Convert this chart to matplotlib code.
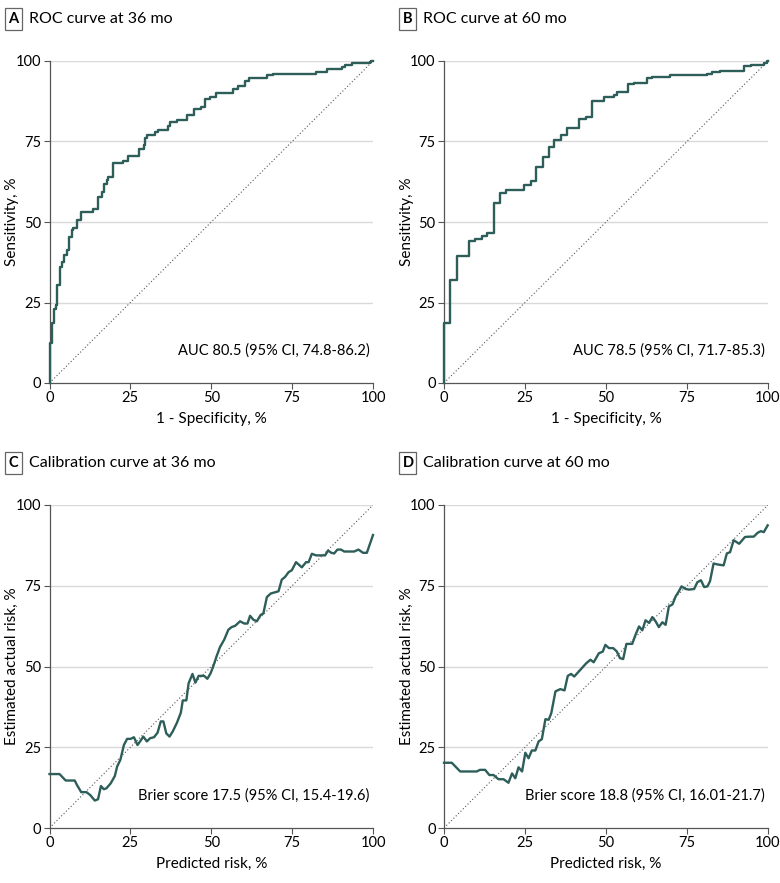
import matplotlib
matplotlib.use("Agg")
import matplotlib.pyplot as plt
from matplotlib.patches import Rectangle

plt.rcParams['font.family'] = ['Lato', 'DejaVu Sans']

# ROC 36 mo (step corners: false-positive rate, sensitivity)
roc36_fpr = [0, 0, 0.8, 1.4, 2.0, 2.4, 3.2, 3.8, 4.6, 5.3, 6.0, 6.9, 7.4, 8.4, 9.6, 13.5, 15.1,
             16.1, 16.8, 17.7, 18.2, 19.7, 22.8, 24.4, 27.8, 29.3, 29.5, 30.2, 32.6, 33.6, 36.7,
             37.2, 39.3, 42.4, 44.7, 46.7, 48.1, 49.6, 51.5, 56.6, 58.4, 60.4, 61.8, 67.1, 69.0,
             82.4, 85.7, 90.3, 91.3, 93.4, 99.1, 99.5, 100]
roc36_tpr = [0, 12.3, 18.5, 23.1, 24.2, 30.3, 36.0, 37.6, 39.6, 41.2, 45.3, 47.4, 48.2, 50.5, 53.0,
             54.0, 57.7, 59.2, 61.8, 63.0, 64.0, 68.2, 69.0, 70.6, 72.7, 73.9, 76.1, 77.0, 78.0,
             78.5, 79.9, 81.1, 81.7, 83.1, 85.0, 85.6, 88.3, 88.8, 90.2, 91.4, 92.2, 93.8, 94.8,
             95.6, 96.1, 96.6, 97.4, 98.2, 98.9, 99.4, 99.7, 100, 100]

# ROC 60 mo
roc60_fpr = [0, 0, 2.0, 4.1, 7.8, 9.7, 11.6, 13.3, 15.4, 17.2, 19.1, 24.7, 26.7, 28.5, 30.6, 32.5,
             34.1, 36.0, 38.0, 41.8, 43.7, 45.7, 49.3, 52.5, 53.5, 56.7, 58.6, 62.5, 64.3, 69.9,
             81.2, 82.8, 85.1, 92.7, 94.6, 98.7, 99.8, 100]
roc60_tpr = [0, 18.5, 32.1, 39.3, 44.1, 44.8, 45.5, 46.5, 55.8, 58.9, 60.0, 61.5, 62.8, 67.0, 70.1,
             73.2, 75.5, 77.0, 79.2, 82.1, 82.7, 87.6, 88.8, 89.5, 90.5, 92.8, 93.3, 94.6, 95.1,
             95.5, 96.1, 96.6, 97.0, 98.3, 98.9, 99.4, 100, 100]

# Calibration 36 mo
cal36_pred = [0, 3.1, 5.0, 7.8, 8.5, 9.8, 11.4, 12.6, 14.0, 15.0, 15.9, 16.8, 17.6, 18.9, 20.2,
              20.9, 21.9, 23.0, 24.0, 25.1, 26.1, 27.2, 28.0, 29.0, 30.1, 31.1, 32.3, 33.4, 34.4,
              35.2, 36.1, 37.1, 38.1, 39.4, 40.6, 41.2, 42.3, 43.0, 44.2, 45.1, 46.1, 47.8, 48.8,
              49.8, 50.6, 51.7, 52.7, 54.0, 55.3, 56.3, 57.4, 58.9, 60.2, 61.2, 62.0, 63.0, 64.1,
              65.3, 66.1, 67.2, 68.4, 69.8, 70.8, 71.8, 72.8, 73.9, 74.9, 76.2, 78.0, 79.3, 80.1,
              81.1, 82.4, 85.2, 86.1, 87.1, 88.0, 89.0, 90.1, 91.1, 94.2, 95.5, 96.9, 98.1, 100]
cal36_obs = [16.7, 16.7, 14.7, 14.7, 13.3, 11.1, 11.1, 10.2, 8.5, 8.9, 13.0, 12.0, 12.3, 13.8, 16.1,
             19.0, 21.1, 25.7, 27.6, 27.6, 28.1, 25.7, 26.8, 28.3, 26.8, 27.8, 28.1, 29.5, 33.0,
             33.0, 29.3, 28.3, 29.9, 32.6, 35.7, 39.5, 39.5, 44.8, 47.7, 45.0, 47.1, 47.1, 46.2,
             47.9, 50.0, 53.3, 56.0, 58.3, 61.4, 62.2, 62.6, 64.0, 63.3, 63.3, 65.7, 64.5, 64.0,
             66.0, 66.4, 71.5, 72.6, 73.0, 73.3, 76.9, 77.7, 79.2, 79.8, 82.3, 80.7, 82.3, 82.3,
             84.9, 84.4, 84.4, 85.9, 85.2, 85.0, 86.2, 86.2, 85.6, 85.6, 86.2, 85.2, 85.2, 90.7]

# Calibration 60 mo
cal60_pred = [0, 2.4, 5.0, 10.1, 11.1, 12.7, 14.0, 15.3, 16.8, 18.4, 19.9, 21.0, 22.0, 23.0, 24.1,
              25.1, 26.1, 27.1, 28.2, 29.2, 30.2, 31.3, 32.3, 33.1, 34.4, 35.9, 37.2, 38.2, 39.2,
              40.2, 42.1, 43.9, 45.2, 46.2, 47.8, 49.0, 49.8, 50.9, 52.2, 53.3, 54.3, 55.3, 56.3,
              58.1, 59.1, 60.2, 61.2, 62.2, 63.3, 64.3, 65.3, 66.3, 67.4, 68.4, 69.4, 70.5, 71.5,
              72.5, 73.3, 74.6, 75.6, 77.2, 78.2, 79.3, 80.3, 81.3, 82.1, 83.2, 84.4, 86.3, 87.3,
              88.3, 89.4, 91.1, 92.9, 94.2, 95.6, 96.8, 97.8, 98.7, 99.9]
cal60_obs = [20.2, 20.2, 17.5, 17.5, 18.0, 18.0, 16.4, 16.4, 15.1, 15.1, 14.0, 16.9, 15.4, 18.8,
             17.5, 23.3, 21.6, 24.0, 24.0, 26.8, 27.5, 33.7, 33.5, 35.5, 42.3, 43.0, 42.6, 47.1,
             47.7, 46.9, 49.0, 51.0, 52.1, 51.3, 54.1, 54.6, 56.7, 55.7, 55.7, 54.7, 52.6, 52.3,
             57.0, 57.0, 59.8, 62.4, 61.2, 64.3, 63.5, 65.3, 64.0, 62.2, 63.7, 62.9, 68.6, 69.2,
             71.7, 73.3, 74.8, 74.0, 73.8, 74.0, 76.1, 76.7, 74.6, 74.8, 76.4, 81.9, 81.6, 81.3,
             85.0, 85.4, 89.1, 88.0, 90.1, 90.2, 90.2, 91.4, 91.9, 91.6, 93.7]

ticks = [0, 25, 50, 75, 100]
tick_labels = ["0", "25", "50", "75", "100"]

panels = [
    ("A", "ROC curve at 36 mo", "1 - Specificity, %", "Sensitivity, %", "AUC 80.5 (95% CI, 74.8-86.2)"),
    ("B", "ROC curve at 60 mo", "1 - Specificity, %", "Sensitivity, %", "AUC 78.5 (95% CI, 71.7-85.3)"),
    ("C", "Calibration curve at 36 mo", "Predicted risk, %", "Estimated actual risk, %", "Brier score 17.5 (95% CI, 15.4-19.6)"),
    ("D", "Calibration curve at 60 mo", "Predicted risk, %", "Estimated actual risk, %", "Brier score 18.8 (95% CI, 16.01-21.7)"),
]

LINE = "#2d5e5a"
W, H = 780, 883
fig = plt.figure(figsize=(7.8, 8.83), dpi=100)

rects = [
    (49.5, 61, 373, 383),
    (444, 61, 768, 383),
    (49.5, 505, 373, 828),
    (444, 505, 768, 828),
]
axes = []
for (l, t, r, b) in rects:
    ax = fig.add_axes([l / W, 1 - b / H, (r - l) / W, (b - t) / H])
    axes.append(ax)

data = [(roc36_fpr, roc36_tpr, True), (roc60_fpr, roc60_tpr, True),
        (cal36_pred, cal36_obs, False), (cal60_pred, cal60_obs, False)]

for ax, (lab, title, xl, yl, note), (xs, ys, is_step), (l, t, r, b) in zip(axes, panels, data, rects):
    ax.set_xlim(0, 100)
    ax.set_ylim(0, 100)
    for g in [25, 50, 75, 100]:
        ax.axhline(g, color="#d9d9d9", lw=1.0, zorder=0)
    ax.plot([0, 100], [0, 100], ls=(0, (1, 2)), color="#555555", lw=0.8, zorder=1)
    if is_step:
        ax.plot(xs, ys, drawstyle="steps-post", color=LINE, lw=1.7, zorder=3, clip_on=False)
    else:
        ax.plot(xs, ys, color=LINE, lw=1.7, zorder=3, clip_on=False)
    for s in ["top", "right"]:
        ax.spines[s].set_visible(False)
    for s in ["left", "bottom"]:
        ax.spines[s].set_color("#555555")
        ax.spines[s].set_linewidth(0.9)
    ax.set_xticks(ticks)
    ax.set_xticklabels(tick_labels)
    ax.set_yticks(ticks)
    ax.set_yticklabels(tick_labels)
    ax.tick_params(direction="out", length=4, width=0.8, color="#555555", labelsize=10.5, pad=2)
    ax.set_xlabel(xl, fontsize=11, labelpad=5)
    ax.set_ylabel(yl, fontsize=11)
    ax.yaxis.set_label_coords((19 - l) / (r - l) if l < 100 else (414 - l) / (r - l), 0.5)
    ax.text(99, 10, note, ha="right", va="center", fontsize=10.5)
    # panel title
    bx0, by0 = (l - 44.5) / W, 1 - (t - 53) / H
    fig.patches.append(Rectangle((bx0, by0 - 22 / H), 17 / W, 22 / H, transform=fig.transFigure,
                                 fill=False, edgecolor="#666666", lw=0.9))
    fig.text(bx0 + 8.5 / W, by0 - 11 / H, lab, ha="center", va="center", fontsize=10.5, fontweight="bold")
    fig.text(bx0 + 24 / W, by0 - 11 / H, title, ha="left", va="center", fontsize=11.5)

fig.savefig("out.png", dpi=100)
